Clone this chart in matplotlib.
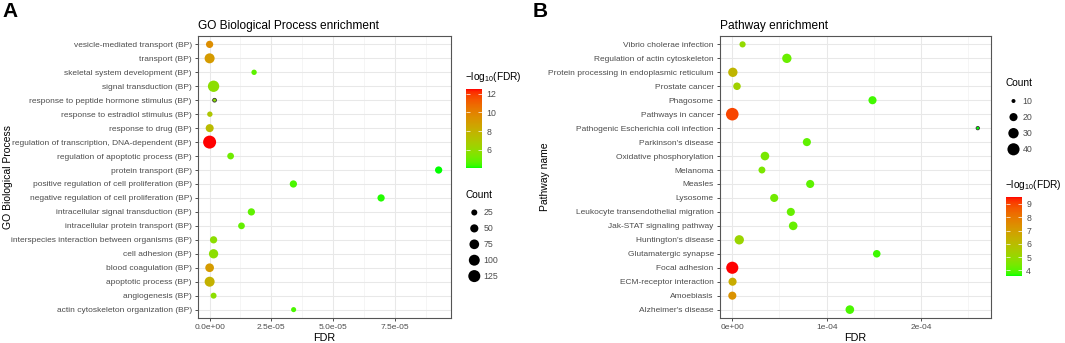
import numpy as np
import matplotlib
matplotlib.use("Agg")
import matplotlib.pyplot as plt
from matplotlib.colors import ListedColormap, Normalize
from matplotlib.cm import ScalarMappable
from matplotlib.ticker import FuncFormatter, FixedLocator

plt.rcParams['font.family'] = ['Liberation Sans', 'DejaVu Sans']
plt.rcParams['mathtext.fontset'] = 'custom'
plt.rcParams['mathtext.rm'] = 'Liberation Sans'
plt.rcParams['mathtext.default'] = 'regular'

# ---------------- data ----------------
go_terms = [
    "vesicle-mediated transport (BP)", "transport (BP)", "skeletal system development (BP)",
    "signal transduction (BP)", "response to peptide hormone stimulus (BP)",
    "response to estradiol stimulus (BP)", "response to drug (BP)",
    "regulation of transcription, DNA-dependent (BP)", "regulation of apoptotic process (BP)",
    "protein transport (BP)", "positive regulation of cell proliferation (BP)",
    "negative regulation of cell proliferation (BP)", "intracellular signal transduction (BP)",
    "intracellular protein transport (BP)", "interspecies interaction between organisms (BP)",
    "cell adhesion (BP)", "blood coagulation (BP)", "apoptotic process (BP)",
    "angiogenesis (BP)", "actin cytoskeleton organization (BP)",
]
go_fdr = [3e-10, 1e-9, 1.80e-5, 1.6e-6, 2.0e-6, 1e-7, 3e-8, 3e-13, 8.5e-6, 9.27e-5,
          3.39e-5, 6.94e-5, 1.69e-5, 1.29e-5, 1.6e-6, 1.6e-6, 1e-9, 1e-8, 1.6e-6, 3.4e-5]
go_count = [38, 81, 20, 109, 10, 20, 48, 150, 32, 38, 38, 38, 38, 32, 38, 68, 58, 81, 25, 18]
go_xticks = [0, 2.5e-5, 5e-5, 7.5e-5]
go_size_breaks = [25, 50, 75, 100, 125]
go_color_breaks = [6, 8, 10, 12]

pw_terms = [
    "Vibrio cholerae infection", "Regulation of actin cytoskeleton",
    "Protein processing in endoplasmic reticulum", "Prostate cancer", "Phagosome",
    "Pathways in cancer", "Pathogenic Escherichia coli infection", "Parkinson's disease",
    "Oxidative phosphorylation", "Melanoma", "Measles", "Lysosome",
    "Leukocyte transendothelial migration", "Jak-STAT signaling pathway",
    "Huntington's disease", "Glutamatergic synapse", "Focal adhesion",
    "ECM-receptor interaction", "Amoebiasis", "Alzheimer's disease",
]
pw_fdr = [1.09e-5, 5.78e-5, 6e-7, 5e-6, 1.485e-4, 1e-9, 2.60e-4, 7.9e-5, 3.46e-5, 3.14e-5,
          8.25e-5, 4.44e-5, 6.2e-5, 6.45e-5, 7.4e-6, 1.53e-4, 3e-10, 3e-7, 5e-8, 1.245e-4]
pw_count = [14, 25, 25, 18, 20, 43, 9, 20, 22, 16, 20, 20, 20, 22, 25, 18, 40, 20, 20, 22]
pw_xticks = [0, 1e-4, 2e-4]
pw_size_breaks = [10, 20, 30, 40]
pw_color_breaks = [4, 5, 6, 7, 8, 9]

# ---------------- colour: ggplot-like green->red gradient in Lab ----------------
def srgb_to_lab(rgb):
    rgb = np.asarray(rgb, float)
    lin = np.where(rgb <= 0.04045, rgb / 12.92, ((rgb + 0.055) / 1.055) ** 2.4)
    M = np.array([[0.4124564, 0.3575761, 0.1804375],
                  [0.2126729, 0.7151522, 0.0721750],
                  [0.0193339, 0.1191920, 0.9503041]])
    xyz = M @ lin
    wp = np.array([0.95047, 1.0, 1.08883])
    t = xyz / wp
    f = np.where(t > (6 / 29) ** 3, np.cbrt(t), t / (3 * (6 / 29) ** 2) + 4 / 29)
    return np.array([116 * f[1] - 16, 500 * (f[0] - f[1]), 200 * (f[1] - f[2])])

def lab_to_srgb(lab):
    L, a, b = lab
    fy = (L + 16) / 116
    fx = fy + a / 500
    fz = fy - b / 200
    def finv(f):
        return np.where(f > 6 / 29, f ** 3, 3 * (6 / 29) ** 2 * (f - 4 / 29))
    wp = np.array([0.95047, 1.0, 1.08883])
    xyz = np.array([finv(fx), finv(fy), finv(fz)]) * wp
    Minv = np.array([[3.2404542, -1.5371385, -0.4985314],
                     [-0.9692660, 1.8760108, 0.0415560],
                     [0.0556434, -0.2040259, 1.0572252]])
    lin = np.clip(Minv @ xyz, 0, 1)
    rgb = np.where(lin <= 0.0031308, 12.92 * lin, 1.055 * lin ** (1 / 2.4) - 0.055)
    return np.clip(rgb, 0, 1)

lab_lo = srgb_to_lab([0, 1, 0])
lab_hi = srgb_to_lab([1, 0, 0])
cols = [lab_to_srgb(lab_lo + (lab_hi - lab_lo) * t) for t in np.linspace(0, 1, 256)]
cmap = ListedColormap(cols)

# ---------------- figure ----------------
W, H = 1065, 343
DPI = 100
fig = plt.figure(figsize=(W / DPI, H / DPI), dpi=DPI)

def fbox(x0, y0, x1, y1):
    return [x0 / W, 1 - y1 / H, (x1 - x0) / W, (y1 - y0) / H]

TXT = '#4D4D4D'
BORDER = '#555555'

def diam_px(c, cmin, cmax, dmin, dmax):
    return dmin + (dmax - dmin) * np.sqrt((np.asarray(c, float) - cmin) / (cmax - cmin))

def s_from_d(d):
    return (np.asarray(d) * 72 / DPI) ** 2

overlay = fig.add_axes([0, 0, 1, 1], zorder=5)
overlay.set_xlim(0, W)
overlay.set_ylim(H, 0)
overlay.axis('off')

def panel(box, terms, fdr, count, xticks, fmt, xlim, title, ylabel, ylabel_x,
          dmin, dmax, cbox, cbreaks, cb_title_xy, size_breaks, size_title_xy,
          size_first_y, size_step, size_x, letter, letter_xy):
    ax = fig.add_axes(fbox(*box))
    n = len(terms)
    fdr = np.asarray(fdr)
    count = np.asarray(count)
    nl = -np.log10(fdr)
    norm = Normalize(nl.min(), nl.max())
    cmin, cmax = count.min(), count.max()
    d = diam_px(count, cmin, cmax, dmin, dmax)
    y = np.arange(n)[::-1]
    ec = ['#333333' if c == cmin else 'none' for c in count]
    d_draw = np.where(count == cmin, d + 1.2, d)
    ax.scatter(fdr, y, s=s_from_d(d_draw), c=cmap(norm(nl)), edgecolors=ec,
               linewidths=0.6, zorder=3)
    ax.set_ylim(-0.6, n - 0.4)
    ax.set_xlim(*xlim)
    ax.set_yticks(y)
    ax.set_yticklabels(terms)
    ax.set_xticks(xticks)
    ax.xaxis.set_major_formatter(FuncFormatter(fmt))
    minors = [(a + b) / 2 for a, b in zip(xticks[:-1], xticks[1:])]
    minors.append(xticks[-1] + (xticks[1] - xticks[0]) / 2)
    ax.xaxis.set_minor_locator(FixedLocator(minors))
    ax.grid(True, which='major', color='#E8E8E8', linewidth=0.75, zorder=0)
    ax.grid(True, which='minor', axis='x', color='#F0F0F0', linewidth=0.45, zorder=0)
    ax.set_axisbelow(True)
    for sp in ax.spines.values():
        sp.set_color(BORDER)
        sp.set_linewidth(0.8)
    ax.tick_params(axis='both', which='major', length=2.5, width=0.6, color='#333333',
                   labelsize=6, labelcolor=TXT, pad=2)
    ax.tick_params(axis='x', which='minor', length=0)
    ax.set_xlabel('FDR', fontsize=7.8, color='black', labelpad=1.5)
    ax.set_title(title, fontsize=8.6, loc='left', pad=5, color='black')
    fig.text(ylabel_x / W, 1 - (box[1] + box[3]) / 2 / H, ylabel, rotation=90,
             ha='center', va='center', fontsize=7.5)
    fig.text(letter_xy[0] / W, 1 - letter_xy[1] / H, letter, fontsize=15,
             fontweight='bold', ha='left', va='top')

    # colour bar
    cax = fig.add_axes(fbox(*cbox))
    sm = ScalarMappable(norm=norm, cmap=cmap)
    cb = fig.colorbar(sm, cax=cax)
    cb.outline.set_visible(False)
    cb.set_ticks(cbreaks)
    cax.yaxis.set_ticks_position('both')
    cax.tick_params(direction='in', length=3, width=0.5, color='white',
                    labelsize=6.3, labelcolor=TXT, pad=3, labelright=True, labelleft=False)
    overlay.text(cb_title_xy[0], cb_title_xy[1], '\u2212log$_{10}$(FDR)',
                 fontsize=7.3, ha='left', va='center')

    # size legend
    overlay.text(size_title_xy[0], size_title_xy[1], 'Count', fontsize=7.3,
                 ha='left', va='center')
    sb = np.asarray(size_breaks, float)
    ys = size_first_y + size_step * np.arange(len(sb))
    overlay.scatter(np.full(len(sb), size_x), ys,
                    s=s_from_d(diam_px(sb, cmin, cmax, dmin, dmax)), c='black',
                    edgecolors='none')
    for yy, b in zip(ys, size_breaks):
        overlay.text(size_x + 9, yy, str(b), fontsize=6.3, color=TXT, ha='left', va='center')
    return ax

panel(box=(198, 36, 451, 318), terms=go_terms, fdr=go_fdr, count=go_count,
      xticks=go_xticks, fmt=lambda v, p: f"{v:.1e}", xlim=(-4.7e-6, 9.77e-5),
      title='GO Biological Process enrichment', ylabel='GO Biological Process', ylabel_x=8,
      dmin=2.6, dmax=13.0, cbox=(466, 89, 482, 168), cbreaks=go_color_breaks,
      cb_title_xy=(465, 77), size_breaks=go_size_breaks, size_title_xy=(465, 195),
      size_first_y=212.5, size_step=15.9, size_x=474.3, letter='A', letter_xy=(2, 2))

panel(box=(720, 36, 991, 318), terms=pw_terms, fdr=pw_fdr, count=pw_count,
      xticks=pw_xticks, fmt=lambda v, p: f"{v:.0e}", xlim=(-1.3e-5, 2.74e-4),
      title='Pathway enrichment', ylabel='Pathway name', ylabel_x=545,
      dmin=2.2, dmax=12.6, cbox=(1006, 197, 1022, 276), cbreaks=pw_color_breaks,
      cb_title_xy=(1005, 185), size_breaks=pw_size_breaks, size_title_xy=(1005, 83),
      size_first_y=101, size_step=16.1, size_x=1013.5, letter='B', letter_xy=(533, 2))

fig.savefig('out.png', dpi=DPI)
